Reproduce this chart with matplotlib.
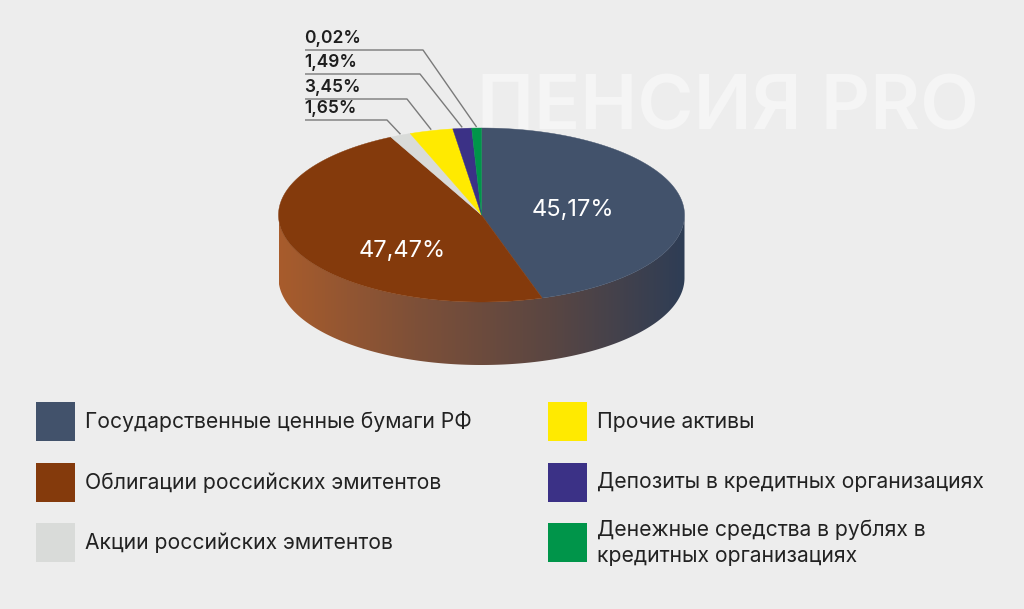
import numpy as np
import matplotlib
matplotlib.use("Agg")
import matplotlib.pyplot as plt
from matplotlib.patches import Polygon, Rectangle
from matplotlib.colors import LinearSegmentedColormap

# ---------------- data ----------------
categories = [
    "Государственные ценные бумаги РФ",
    "Облигации российских эмитентов",
    "Акции российских эмитентов",
    "Прочие активы",
    "Депозиты в кредитных организациях",
    "Денежные средства в рублях в\nкредитных организациях",
]
values = [45.17, 47.47, 1.65, 3.45, 1.49, 0.02]           # printed labels
wedge_sizes = [45.17, 47.47, 1.65, 3.45, 1.49, 0.77]      # drawn slice sizes as seen in the picture
value_labels = ["45,17%", "47,47%", "1,65%", "3,45%", "1,49%", "0,02%"]
colors = ["#42526b", "#843a0c", "#d9dbd9", "#ffea00", "#3b3186", "#00954a"]

BG = "#ededed"
plt.rcParams['font.family'] = ['Inter', 'DejaVu Sans']

fig = plt.figure(figsize=(10.24, 6.09), dpi=100, facecolor=BG)
ax = fig.add_axes([0, 0, 1, 1])
ax.set_xlim(0, 1024)
ax.set_ylim(609, 0)
ax.set_facecolor(BG)
ax.axis('off')

# watermark
ax.text(477, 110, "ПЕНСИЯ PRO", fontsize=55, fontweight='semibold', color='#f5f5f5',
        ha='left', va='center', zorder=0)

# pie geometry
cx, cy, a, b, depth = 481.5, 215.0, 203.0, 87.0, 63.0

def pt(theta_deg, dy=0.0):
    t = np.radians(theta_deg)
    return cx + a * np.cos(t), cy - b * np.sin(t) + dy

# side (front half) with horizontal gradient
th = np.linspace(180, 360, 300)
top = np.array([pt(t) for t in th])
bot = np.array([pt(t, depth) for t in th[::-1]])
side_pts = np.vstack([top, bot])
side = Polygon(side_pts, closed=True, facecolor='none', edgecolor='none', zorder=2)
ax.add_patch(side)
cmap = LinearSegmentedColormap.from_list("side", ["#a85c2c", "#7e5038", "#5a4642", "#2e3d55"])
grad = np.linspace(0, 1, 512).reshape(1, -1)
im = ax.imshow(grad, cmap=cmap, aspect='auto',
               extent=[cx - a, cx + a, cy + b + depth, cy - 5], zorder=2, interpolation='bilinear')
im.set_clip_path(side)

# top wedges, start at 90 deg, clockwise
total = sum(wedge_sizes)
start = 90.0
mids = []
for size, col in zip(wedge_sizes, colors):
    span = 360.0 * size / total
    end = start - span
    angs = np.linspace(start, end, max(int(span * 2), 4))
    poly = [(cx, cy)] + [pt(t) for t in angs]
    ax.add_patch(Polygon(poly, closed=True, facecolor=col, edgecolor=col, lw=0.3, zorder=3))
    mids.append((start + end) / 2.0)
    start = end

# inner labels
ax.text(573, 210, value_labels[0], color='white', fontsize=17, ha='center', va='center', zorder=5)
ax.text(402, 251, value_labels[1], color='white', fontsize=17, ha='center', va='center', zorder=5)

# outer labels with leader lines
label_y = [120, 99, 74, 50]       # line heights for grey, yellow, purple, green
knee_x = [387, 407, 420, 423]
for k, idx in enumerate([2, 3, 4, 5]):
    ex, ey = pt(mids[idx])
    ey -= 1
    ly = label_y[k]
    ax.plot([305, knee_x[k], ex], [ly, ly, ey], color='#7a7a7a', lw=1.0, zorder=4,
            solid_capstyle='butt')
    ax.text(304, ly - 3, value_labels[idx], fontsize=12.5, fontweight='semibold', color='#1e1e1e',
            ha='left', va='bottom', zorder=5)

# legend
col_x = [36, 548]
row_y = [402, 463, 523]
for i, (cat, col) in enumerate(zip(categories, colors)):
    c, r = divmod(i, 3)
    x0, y0 = col_x[c], row_y[r]
    ax.add_patch(Rectangle((x0, y0), 39, 39, facecolor=col, edgecolor='none', zorder=3))
    ax.text(x0 + 49, y0 + 19.5, cat, fontsize=15.2, color='#222222', ha='left', va='center',
            linespacing=1.4, zorder=5)

fig.savefig("out.png", dpi=100, facecolor=BG)
